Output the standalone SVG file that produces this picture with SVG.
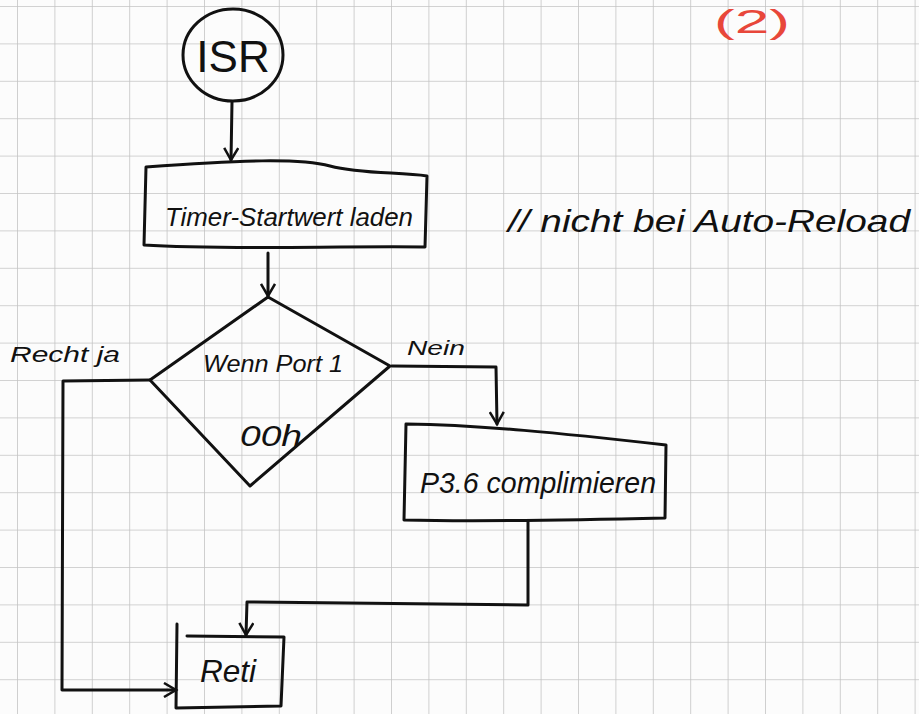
<svg xmlns="http://www.w3.org/2000/svg" width="919" height="714" viewBox="0 0 919 714">
<defs>
<pattern id="grid" x="17" y="6" width="37.4" height="37.4" patternUnits="userSpaceOnUse">
<path d="M0 0H37.4M0 0V37.4" fill="none" stroke="#c4c4c4" stroke-width="1.6"/>
</pattern>
<marker id="arr" markerWidth="16" markerHeight="16" refX="13" refY="8" orient="auto" markerUnits="userSpaceOnUse">
<path d="M1 1L13 8L1 15" fill="none" stroke="#111" stroke-width="2.5"/>
</marker>
<style>
.ink{fill:none;stroke:#111;stroke-width:3;stroke-linecap:round;stroke-linejoin:round}
.t{font-family:"Liberation Sans",sans-serif;fill:#111;font-style:italic}
</style>
</defs>
<rect width="919" height="714" fill="#fcfcfc"/>
<rect width="919" height="714" fill="url(#grid)"/>
<text x="714" y="33" font-family="Liberation Sans,sans-serif" font-size="33" fill="#e8473a" textLength="76" lengthAdjust="spacingAndGlyphs">(2)</text>
<g id="connectors">
<path class="ink" d="M232 102L231 160" marker-end="url(#arr)"/>
<path class="ink" d="M268 253L268 296" marker-end="url(#arr)"/>
<path class="ink" d="M150 380L63 381L62 690L176 690" marker-end="url(#arr)"/>
<path class="ink" d="M392 366L496 367L497 424" marker-end="url(#arr)"/>
<path class="ink" d="M528 522L528 605L247 602L246 635" marker-end="url(#arr)"/>
<text class="t" x="10" y="362" font-size="22" textLength="110" lengthAdjust="spacingAndGlyphs">Recht ja</text>
<text class="t" x="407" y="355" font-size="20" textLength="58" lengthAdjust="spacingAndGlyphs">Nein</text>
</g>
<g id="isr">
<ellipse class="ink" cx="233" cy="55" rx="50" ry="46"/>
<text class="t" x="233" y="72" font-size="44" text-anchor="middle" style="font-style:normal">ISR</text>
</g>
<g id="timer">
<path class="ink" d="M146 167C240 160 300 158 330 166C360 174 400 172 427 176L425 247C330 246 220 250 144 245Z"/>
<text class="t" x="165" y="226" font-size="26" textLength="248" lengthAdjust="spacingAndGlyphs">Timer-Startwert laden</text>
</g>
<g id="comment">
<text class="t" x="508" y="232" font-size="32" textLength="402" lengthAdjust="spacingAndGlyphs">// nicht bei Auto-Reload</text>
</g>
<g id="decision">
<path class="ink" d="M268 297L150 380L250 486L390 366Z"/>
<text class="t" x="203" y="372" font-size="24" textLength="140" lengthAdjust="spacingAndGlyphs">Wenn Port 1</text>
<text class="t" x="240" y="446" font-size="30" textLength="62" lengthAdjust="spacingAndGlyphs">00h</text>
</g>
<g id="p36">
<path class="ink" d="M406 424C480 425 560 433 666 445L665 518C580 520 480 522 404 520Z"/>
<text class="t" x="420" y="493" font-size="30" textLength="236" lengthAdjust="spacingAndGlyphs">P3.6 complimieren</text>
</g>
<g id="reti">
<path class="ink" d="M187 636L284 637L281 706L176 708L177 624"/>
<text class="t" x="200" y="682" font-size="32" textLength="56" lengthAdjust="spacingAndGlyphs">Reti</text>
</g>
</svg>
